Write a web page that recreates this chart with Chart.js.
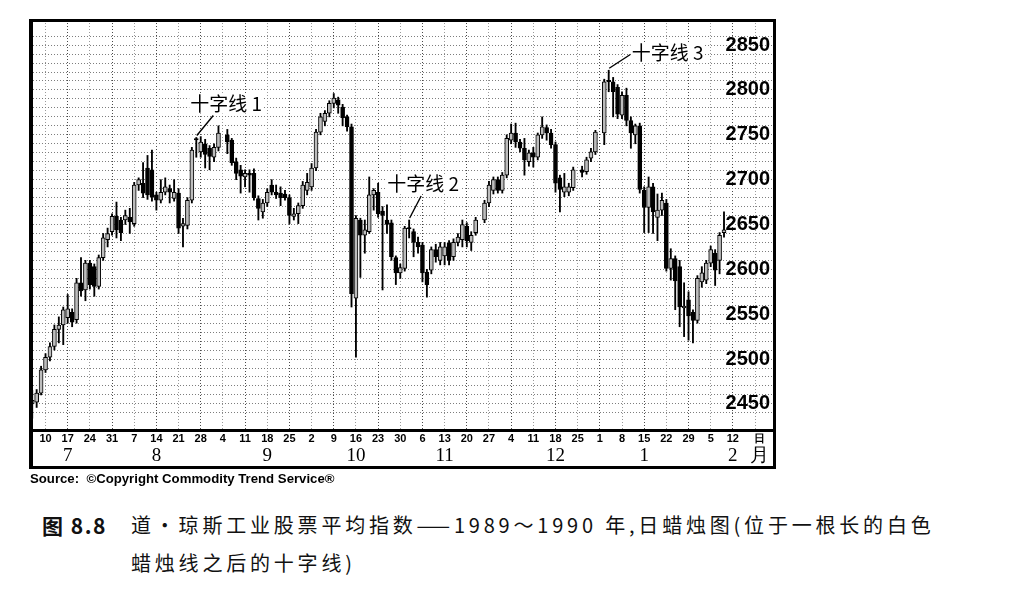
<!DOCTYPE html>
<html><head><meta charset="utf-8">
<script src="https://cdn.jsdelivr.net/npm/chart.js@4.4.1/dist/chart.umd.min.js"></script>
<style>
html,body{margin:0;padding:0;background:#fff}
body{width:1017px;height:595px;overflow:hidden;position:relative}
#wrap{position:absolute;left:30px;top:20px;width:745px;height:448px}
#frame{position:absolute;left:29px;top:19px;width:747px;height:450px;border:3px solid #000;border-left-width:4px;box-sizing:border-box;pointer-events:none}
#sep{position:absolute;left:29px;top:429px;width:747px;height:3px;background:#000;pointer-events:none}
#src{position:absolute;left:30px;top:471px;font:bold 13.2px "Liberation Sans",Arial,sans-serif;color:#000;white-space:nowrap}
.cap{position:absolute;font-family:"Noto Sans CJK SC",sans-serif;font-size:20px;line-height:22px;letter-spacing:3.8px;white-space:nowrap;color:#111}
</style></head><body>
<div id="wrap"><canvas id="c"></canvas></div>
<div id="frame"></div>
<div id="sep"></div>
<div id="src">Source:&nbsp;&nbsp;©Copyright Commodity Trend Service®</div>
<div class="cap" style="left:42px;top:514px;font-weight:bold;letter-spacing:1.5px;font-size:21px">图 8.8</div>
<div class="cap" style="left:131px;top:514px">道·琼斯工业股票平均指数——1989～1990 年,日蜡烛图(位于一根长的白色</div>
<div class="cap" style="left:131px;top:552px">蜡烛线之后的十字线)</div>
<script>
// ---- data ----
const tradeDates = [
'1989-07-05','1989-07-06','1989-07-07','1989-07-10','1989-07-11','1989-07-12','1989-07-13','1989-07-14',
'1989-07-17','1989-07-18','1989-07-19','1989-07-20','1989-07-21','1989-07-24','1989-07-25','1989-07-26','1989-07-27','1989-07-28',
'1989-07-31','1989-08-01','1989-08-02','1989-08-03','1989-08-04','1989-08-07','1989-08-08','1989-08-09','1989-08-10','1989-08-11',
'1989-08-14','1989-08-15','1989-08-16','1989-08-17','1989-08-18','1989-08-21','1989-08-22','1989-08-23','1989-08-24','1989-08-25',
'1989-08-28','1989-08-29','1989-08-30','1989-08-31','1989-09-01','1989-09-05','1989-09-06','1989-09-07','1989-09-08',
'1989-09-11','1989-09-12','1989-09-13','1989-09-14','1989-09-15','1989-09-18','1989-09-19','1989-09-20','1989-09-21','1989-09-22',
'1989-09-25','1989-09-26','1989-09-27','1989-09-28','1989-09-29','1989-10-02','1989-10-03','1989-10-04','1989-10-05','1989-10-06',
'1989-10-09','1989-10-10','1989-10-11','1989-10-12','1989-10-13','1989-10-16','1989-10-17','1989-10-18','1989-10-19','1989-10-20',
'1989-10-23','1989-10-24','1989-10-25','1989-10-26','1989-10-27','1989-10-30','1989-10-31','1989-11-01','1989-11-02','1989-11-03',
'1989-11-06','1989-11-07','1989-11-08','1989-11-09','1989-11-10','1989-11-13','1989-11-14','1989-11-15','1989-11-16','1989-11-17',
'1989-11-20','1989-11-21','1989-11-22','1989-11-24','1989-11-27','1989-11-28','1989-11-29','1989-11-30','1989-12-01',
'1989-12-04','1989-12-05','1989-12-06','1989-12-07','1989-12-08','1989-12-11','1989-12-12','1989-12-13','1989-12-14','1989-12-15',
'1989-12-18','1989-12-19','1989-12-20','1989-12-21','1989-12-22','1989-12-26','1989-12-27','1989-12-28','1989-12-29',
'1990-01-02','1990-01-03','1990-01-04','1990-01-05','1990-01-08','1990-01-09','1990-01-10','1990-01-11','1990-01-12',
'1990-01-15','1990-01-16','1990-01-17','1990-01-18','1990-01-19','1990-01-22','1990-01-23','1990-01-24','1990-01-25','1990-01-26',
'1990-01-29','1990-01-30','1990-01-31','1990-02-01','1990-02-02','1990-02-05','1990-02-06','1990-02-07','1990-02-08'
];
const openP = [
2450,2452,2462,2488,2502,2514,2533,2538,
2546,2552,2544,2585,2577,2607,2603,2581,2613,2633,
2642,2659,2655,2655,2658,2651,2694,2696,2713,2711,
2683,2677,2686,2690,2679,2685,2648,2649,2677,2745,
2731,2740,2735,2725,2736,2750,2744,2720,2711,
2703,2707,2707,2679,2664,2674,2694,2686,2685,2684,
2680,2659,2662,2671,2688,2692,2713,2753,2765,2774,
2785,2789,2781,2770,2759,2568,2655,2638,2642,2683,
2686,2665,2655,2652,2613,2596,2601,2646,2642,2630,
2627,2597,2599,2622,2610,2615,2629,2614,2630,2633,
2648,2630,2641,2655,2674,2688,2700,2688,2705,
2744,2752,2742,2735,2720,2730,2725,2750,2758,2752,
2739,2702,2686,2686,2691,2711,2709,2724,2731,
2752,2810,2809,2803,2772,2794,2766,2750,2760,
2688,2669,2692,2658,2666,2674,2601,2612,2603,2557,
2566,2552,2543,2586,2588,2607,2618,2610,2641
];
const highP = [
2465,2466,2492,2506,2518,2538,2547,2558,
2572,2556,2590,2613,2610,2610,2606,2616,2640,2646,
2662,2675,2658,2666,2668,2697,2702,2719,2727,2733,
2686,2700,2702,2694,2700,2690,2657,2680,2736,2747,
2748,2745,2738,2740,2760,2756,2746,2724,2716,
2711,2711,2712,2682,2678,2690,2700,2694,2692,2688,
2683,2668,2674,2698,2707,2718,2756,2774,2777,2788,
2796,2792,2784,2772,2762,2660,2657,2655,2703,2690,
2696,2670,2672,2655,2615,2606,2648,2655,2645,2636,
2630,2600,2625,2628,2630,2630,2632,2634,2640,2655,
2652,2642,2658,2677,2698,2703,2703,2708,2750,
2762,2763,2745,2746,2733,2736,2752,2770,2761,2756,
2742,2705,2707,2696,2714,2715,2725,2735,2755,
2812,2822,2814,2806,2798,2802,2770,2762,2763,
2692,2703,2696,2684,2685,2678,2623,2615,2610,2585,
2575,2555,2593,2603,2610,2626,2622,2641,2664
];
const lowP = [
2434,2446,2460,2485,2498,2510,2518,2516,
2540,2536,2540,2570,2565,2578,2570,2578,2610,2625,
2638,2635,2632,2650,2640,2648,2688,2680,2678,2676,
2666,2674,2683,2674,2676,2640,2625,2645,2674,2725,
2725,2713,2711,2720,2732,2729,2716,2700,2685,
2692,2686,2677,2655,2657,2670,2683,2679,2671,2677,
2651,2655,2651,2668,2683,2688,2710,2750,2760,2770,
2780,2774,2760,2754,2558,2502,2591,2618,2640,2666,
2658,2577,2640,2610,2583,2590,2598,2635,2614,2618,
2586,2569,2595,2608,2605,2605,2605,2610,2626,2625,
2625,2621,2638,2652,2670,2684,2685,2685,2702,
2740,2736,2731,2705,2715,2714,2722,2746,2744,2735,
2686,2664,2681,2682,2688,2703,2706,2720,2728,
2739,2798,2770,2768,2768,2760,2735,2740,2685,
2641,2641,2640,2632,2660,2598,2588,2555,2536,2525,
2521,2518,2540,2580,2584,2603,2582,2595,2636
];
const closeP = [
2454,2462,2488,2502,2514,2533,2538,2555,
2556,2541,2585,2576,2607,2583,2581,2613,2635,2640,
2659,2644,2641,2660,2653,2694,2700,2685,2683,2681,
2677,2686,2692,2686,2686,2646,2651,2677,2733,2745,
2742,2728,2726,2736,2752,2742,2719,2707,2704,
2707,2705,2680,2668,2674,2686,2686,2683,2680,2680,
2660,2662,2671,2694,2697,2713,2753,2770,2774,2785,
2791,2783,2769,2759,2573,2657,2638,2644,2683,2688,
2662,2660,2650,2614,2596,2602,2646,2646,2630,2625,
2596,2583,2622,2614,2625,2625,2610,2630,2636,2650,
2632,2638,2655,2674,2694,2700,2688,2705,2746,
2752,2742,2735,2722,2730,2725,2750,2759,2752,2739,
2696,2689,2692,2692,2711,2708,2722,2731,2753,
2809,2810,2798,2773,2794,2766,2752,2760,2689,
2669,2692,2664,2666,2677,2601,2612,2587,2558,2559,
2548,2543,2590,2596,2607,2622,2599,2638,2644
];
// axis text
const priceTicks = [2450,2500,2550,2600,2650,2700,2750,2800,2850];
const lastDayLabelDate = '1990-02-12';
const monthLabelDates = ['1989-07-17','1989-08-14','1989-09-18','1989-10-16','1989-11-13','1989-12-18','1990-01-15','1990-02-12'];
const monthLabelTexts = ['7','8','9','10','11','12','1','2'];
const unitLabelDate = '1990-02-20';
const unitDayText = '日';
const unitMonthText = '月';
// annotations (doji candles)
const dojiDates = ['1989-08-25','1989-11-01','1990-01-03'];
const dojiTexts = ['十字线 1','十字线 2','十字线 3'];

// ---- build calendar slots (5 weekday slots per week) ----
const SLOT_COUNT = 168;
const slotKeys = [];
const slotIsMonday = [];
const slotDay = [];
{
  let d = new Date(Date.UTC(1989, 6, 5));
  while (slotKeys.length < SLOT_COUNT) {
    const wd = d.getUTCDay();
    if (wd >= 1 && wd <= 5) {
      slotKeys.push(d.toISOString().slice(0, 10));
      slotIsMonday.push(wd === 1);
      slotDay.push(d.getUTCDate());
    }
    d = new Date(d.getTime() + 86400000);
  }
}
const idxOf = {};
slotKeys.forEach((k, i) => idxOf[k] = i);

const wickData = new Array(SLOT_COUNT).fill(null);
const bodyData = new Array(SLOT_COUNT).fill(null);
const bodyColor = new Array(SLOT_COUNT).fill('#000');
tradeDates.forEach((dt, j) => {
  const i = idxOf[dt];
  const o = openP[j], c = closeP[j];
  wickData[i] = [lowP[j], highP[j]];
  let lo = Math.min(o, c), hi = Math.max(o, c);
  if (hi - lo < 1.4) { const m = (hi + lo) / 2; lo = m - 0.7; hi = m + 0.7; }
  bodyData[i] = [lo, hi];
  bodyColor[i] = c > o + 0.5 ? '#bdbdbd' : '#000';
});

const lastLabelIdx = idxOf[lastDayLabelDate];
const dayLabels = slotKeys.map((k, i) => (slotIsMonday[i] && i <= lastLabelIdx) ? String(slotDay[i]) : '');
const monthLabels = slotKeys.map(() => '');
monthLabelDates.forEach((dt, j) => { monthLabels[idxOf[dt]] = monthLabelTexts[j]; });
dayLabels[idxOf[unitLabelDate]] = unitDayText;
monthLabels[idxOf[unitLabelDate]] = unitMonthText;

const mondayCount = [];
{ let n = 0; slotIsMonday.forEach((m) => { mondayCount.push(m ? n++ : -1); }); }

const annotationPlugin = {
  id: 'dojiNotes',
  afterDatasetsDraw(chart) {
    const ctx = chart.ctx, xs = chart.scales.x, ys = chart.scales.y;
    const offs = [
      {tx: -6, ty: -34, lx1: 17, ly1: -22},
      {tx: -22, ty: -36, lx1: 12, ly1: -24},
      {tx: 23, ty: -17, lx1: 22, ly1: -16}
    ];
    ctx.save();
    dojiDates.forEach((dt, j) => {
      const t = tradeDates.indexOf(dt);
      const x = xs.getPixelForValue(idxOf[dt]);
      const y = ys.getPixelForValue(highP[t]);
      const o = offs[j];
      ctx.strokeStyle = '#000'; ctx.lineWidth = 1.4;
      ctx.beginPath(); ctx.moveTo(x + o.lx1, y + o.ly1); ctx.lineTo(x + 0.5, y - 2); ctx.stroke();
      ctx.font = '19px "Noto Sans CJK SC", sans-serif';
      ctx.textBaseline = 'middle'; ctx.textAlign = 'left';
      const w = ctx.measureText(dojiTexts[j]).width;
      ctx.fillStyle = '#fff';
      ctx.fillRect(x + o.tx - 1, y + o.ty - 10, w + 2, 20);
      ctx.fillStyle = '#000';
      ctx.fillText(dojiTexts[j], x + o.tx, y + o.ty);
    });
    ctx.restore();
  }
};

new Chart(document.getElementById('c'), {
  type: 'bar',
  data: {
    labels: slotKeys,
    datasets: [
      {label: 'body', data: bodyData, backgroundColor: bodyColor, borderColor: '#000', borderWidth: 1,
       borderSkipped: false, barThickness: 4, grouped: false, order: 1},
      {label: 'wick', data: wickData, backgroundColor: '#000', borderWidth: 0, barThickness: 1.2, grouped: false, order: 2}
    ]
  },
  options: {
    responsive: true, maintainAspectRatio: false, animation: false,
    layout: {padding: 0},
    plugins: {legend: {display: false}, tooltip: {enabled: false}},
    scales: {
      x: {
        type: 'category', position: 'bottom', offset: true,
        afterFit(s) { s.height = 16; s.paddingLeft = 0; s.paddingRight = 0; },
        grid: {offset: false, drawTicks: false, lineWidth: 1,
          color: (c) => { const m = mondayCount[c.index]; if (m === undefined || m < 0) return 'rgba(0,0,0,0)'; return m % 2 === 1 ? '#4a4a4a' : '#9a9a9a'; }},
        border: {display: false, dash: [1, 2]},
        ticks: {autoSkip: false, maxRotation: 0, minRotation: 0, padding: 3, color: '#000',
          font: {family: '"Liberation Sans Narrow","Arial Narrow","Liberation Sans",sans-serif', size: 11, weight: 'bold'},
          callback: (v) => dayLabels[v]}
      },
      x2: {
        type: 'category', position: 'bottom', offset: true,
        afterFit(s) { s.height = 23; s.paddingLeft = 0; s.paddingRight = 0; },
        grid: {display: false, drawTicks: false},
        border: {display: false},
        ticks: {autoSkip: false, maxRotation: 0, minRotation: 0, padding: 0, color: '#000',
          font: {family: '"Liberation Serif","Times New Roman",serif', size: 19},
          callback: (v) => monthLabels[v]}
      },
      y: {
        type: 'linear', position: 'right', min: 2422, max: 2878,
        afterFit(s) { s.width = 0; s.paddingTop = 0; s.paddingBottom = 0; },
        grid: {drawTicks: false, color: '#7d7d7d', lineWidth: 1},
        border: {display: false, dash: [1, 2]},
        ticks: {mirror: true, padding: -5, stepSize: 10, autoSkip: false, color: '#000',
          font: {family: '"Liberation Sans Narrow","Arial Narrow","Liberation Sans",sans-serif', size: 20, weight: 'bold'},
          callback: (v) => priceTicks.includes(v) ? String(v) : ''}
      }
    }
  },
  plugins: [annotationPlugin]
});
</script>
</body></html>
